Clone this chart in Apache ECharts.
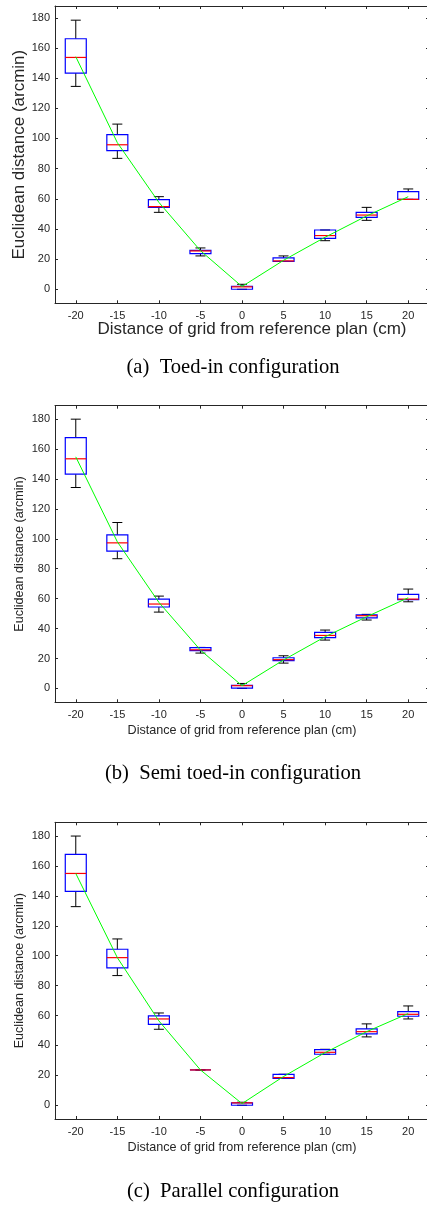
<!DOCTYPE html>
<html>
<head>
<meta charset="utf-8">
<script src="https://cdn.jsdelivr.net/npm/echarts@6/dist/echarts.min.js"></script>
<style>
  html, body { margin: 0; padding: 0; background: #fff; }
  #main { width: 427px; height: 1206px; }
</style>
</head>
<body>
<div id="main"></div>
<script>
// grid distance categories (cm)
const categories = ['-20', '-15', '-10', '-5', '0', '5', '10', '15', '20']
const yTicks = [0, 20, 40, 60, 80, 100, 120, 140, 160, 180]

// box stats per category: [lower whisker, Q1, median, Q3, upper whisker]
const toedInBoxes = [
  [134.5, 143.3, 153.7, 166.1, 178.4],
  [86.8, 91.9, 95.8, 102.5, 109.5],
  [51.0, 54.3, 54.8, 59.4, 61.4],
  [22.1, 23.6, 25.4, 25.8, 27.4],
  [0, 0, 1.6, 2.0, 3.3],
  [18.5, 18.5, 18.8, 20.8, 22.1],
  [32.2, 33.8, 35.6, 39.3, 39.3],
  [45.7, 47.7, 49.2, 51.0, 54.3],
  [59.6, 59.6, 59.6, 64.7, 66.5]
]
const toedInMeans = [154.2, 97.2, 57.6, 25.6, 1.8, 19.2, 34.5, 48.6, 61.4]

const semiBoxes = [
  [134.3, 143.2, 153.5, 167.7, 180],
  [86.7, 91.8, 97.3, 102.7, 110.9],
  [51.0, 54.4, 56.4, 59.7, 61.7],
  [23.6, 25.2, 25.8, 27.2, 27.4],
  [0, 0.2, 1.8, 2.0, 3.3],
  [16.9, 18.5, 19.2, 20.5, 21.8],
  [32.3, 33.9, 35.4, 37.4, 39.0],
  [45.7, 47.2, 48.6, 49.2, 49.5],
  [57.9, 59.3, 59.7, 62.8, 66.4]
]
const semiMeans = [154.8, 98, 57.5, 25.6, 1.8, 19, 34.5, 47.9, 60.6]

const parallelBoxes = [
  [132.8, 143, 155, 167.7, 180],
  [86.7, 91.8, 98.7, 104.3, 111.2],
  [50.8, 54.1, 57.7, 59.7, 61.7],
  [23.6, 23.6, 23.6, 23.6, 23.6],
  [0, 0, 1.6, 1.6, 2.0],
  [18, 18, 18.5, 20.7, 20.7],
  [34.1, 34.1, 35.4, 37.2, 37.4],
  [45.7, 47.7, 49.2, 51.0, 54.4],
  [57.7, 59.5, 60.8, 62.6, 66.4]
]
const parallelMeans = [155, 98.7, 56.4, 23.6, 1.1, 19.2, 35.2, 49.2, 61.3]

const axisColor = '#262626'
const sans = 'Liberation Sans, Arial, sans-serif'
const serif = 'Liberation Serif, Times New Roman, serif'

// one panel per configuration
const panels = [
  { boxes: toedInBoxes, means: toedInMeans, top: 6, height: 297.3, min: -9.3, max: 187.8,
    nameSize: 17, xGap: 18, yGap: 27, xPad: [0, 0, 0, 20], caption: '(a)  Toed-in configuration', capY: 367.5 },
  { boxes: semiBoxes, means: semiMeans, top: 405.7, height: 296.6, min: -9.3, max: 189,
    nameSize: 12.6, xGap: 22, yGap: 29, xPad: 0, caption: '(b)  Semi toed-in configuration', capY: 774 },
  { boxes: parallelBoxes, means: parallelMeans, top: 822.3, height: 296.7, min: -9.2, max: 189.2,
    nameSize: 12.6, xGap: 22, yGap: 29, xPad: 0, caption: '(c)  Parallel configuration', capY: 1191.5 }
]

function renderBox(params, api) {
  const i = api.value(0)
  const lo = api.coord([i, api.value(1)])
  const q1 = api.coord([i, api.value(2)])
  const med = api.coord([i, api.value(3)])
  const q3 = api.coord([i, api.value(4)])
  const hi = api.coord([i, api.value(5)])
  const cx = lo[0]
  const half = 10.5
  const cap = 5
  const black = { stroke: '#000', lineWidth: 1 }
  return {
    type: 'group',
    children: [
      { type: 'line', shape: { x1: cx, y1: hi[1], x2: cx, y2: q3[1] }, style: black },
      { type: 'line', shape: { x1: cx, y1: q1[1], x2: cx, y2: lo[1] }, style: black },
      { type: 'line', shape: { x1: cx - cap, y1: hi[1], x2: cx + cap, y2: hi[1] }, style: black },
      { type: 'line', shape: { x1: cx - cap, y1: lo[1], x2: cx + cap, y2: lo[1] }, style: black },
      { type: 'rect', shape: { x: cx - half, y: q3[1], width: half * 2, height: q1[1] - q3[1] },
        style: { fill: 'none', stroke: '#0000ff', lineWidth: 1.2 } },
      { type: 'line', shape: { x1: cx - half, y1: med[1], x2: cx + half, y2: med[1] },
        style: { stroke: '#ff0000', lineWidth: 1.2 } }
    ]
  }
}

const grid = []
const xAxis = []
const yAxis = []
const series = []
const graphic = []

panels.forEach((p, k) => {
  grid.push({ left: 55, width: 374, top: p.top, height: p.height, containLabel: false, outerBoundsMode: 'none' })
  const tick = { show: true, inside: true, length: 3, alignWithLabel: true, lineStyle: { color: axisColor } }
  const line = { show: true, onZero: false, lineStyle: { color: axisColor, width: 1 } }
  xAxis.push({
    type: 'category', gridIndex: k, data: categories, position: 'bottom',
    axisLine: line, axisTick: tick,
    axisLabel: { color: axisColor, fontSize: 11, fontFamily: sans, margin: 7 },
    splitLine: { show: false },
    name: 'Distance of grid from reference plan (cm)', nameLocation: 'middle', nameGap: p.xGap,
    nameMoveOverlap: false,
    nameTextStyle: { color: axisColor, fontSize: p.nameSize, fontFamily: sans, padding: p.xPad }
  })
  xAxis.push({
    type: 'category', gridIndex: k, data: categories, position: 'top',
    axisLine: line, axisTick: tick, axisLabel: { show: false }, splitLine: { show: false }
  })
  const yTick = { show: true, inside: true, length: 3, customValues: yTicks, lineStyle: { color: axisColor } }
  yAxis.push({
    type: 'value', gridIndex: k, min: p.min, max: p.max, position: 'left',
    axisLine: line, axisTick: yTick,
    axisLabel: { color: axisColor, fontSize: 11, fontFamily: sans, margin: 5, customValues: yTicks },
    splitLine: { show: false },
    name: 'Euclidean distance (arcmin)', nameLocation: 'middle', nameGap: p.yGap, nameRotate: 90,
    nameMoveOverlap: false,
    nameTextStyle: { color: axisColor, fontSize: p.nameSize, fontFamily: sans }
  })
  yAxis.push({
    type: 'value', gridIndex: k, min: p.min, max: p.max, position: 'right',
    axisLine: line, axisTick: yTick, axisLabel: { show: false }, splitLine: { show: false }
  })
  series.push({
    type: 'custom', xAxisIndex: k * 2, yAxisIndex: k * 2,
    renderItem: renderBox,
    encode: { x: 0, y: [1, 2, 3, 4, 5] },
    data: p.boxes.map((b, i) => [i].concat(b)),
    z: 2
  })
  series.push({
    type: 'line', xAxisIndex: k * 2, yAxisIndex: k * 2,
    data: p.means, symbol: 'none',
    lineStyle: { color: '#00ff00', width: 1 },
    z: 3
  })
  graphic.push({
    type: 'text', x: 233, y: p.capY,
    style: { text: p.caption, font: '20.6px ' + serif, fill: '#000', textAlign: 'center', textVerticalAlign: 'middle' }
  })
})

const chart = echarts.init(document.getElementById('main'), null, { renderer: 'canvas' })
chart.setOption({
  animation: false,
  backgroundColor: '#fff',
  grid: grid,
  xAxis: xAxis,
  yAxis: yAxis,
  series: series,
  graphic: graphic
})
</script>
</body>
</html>
